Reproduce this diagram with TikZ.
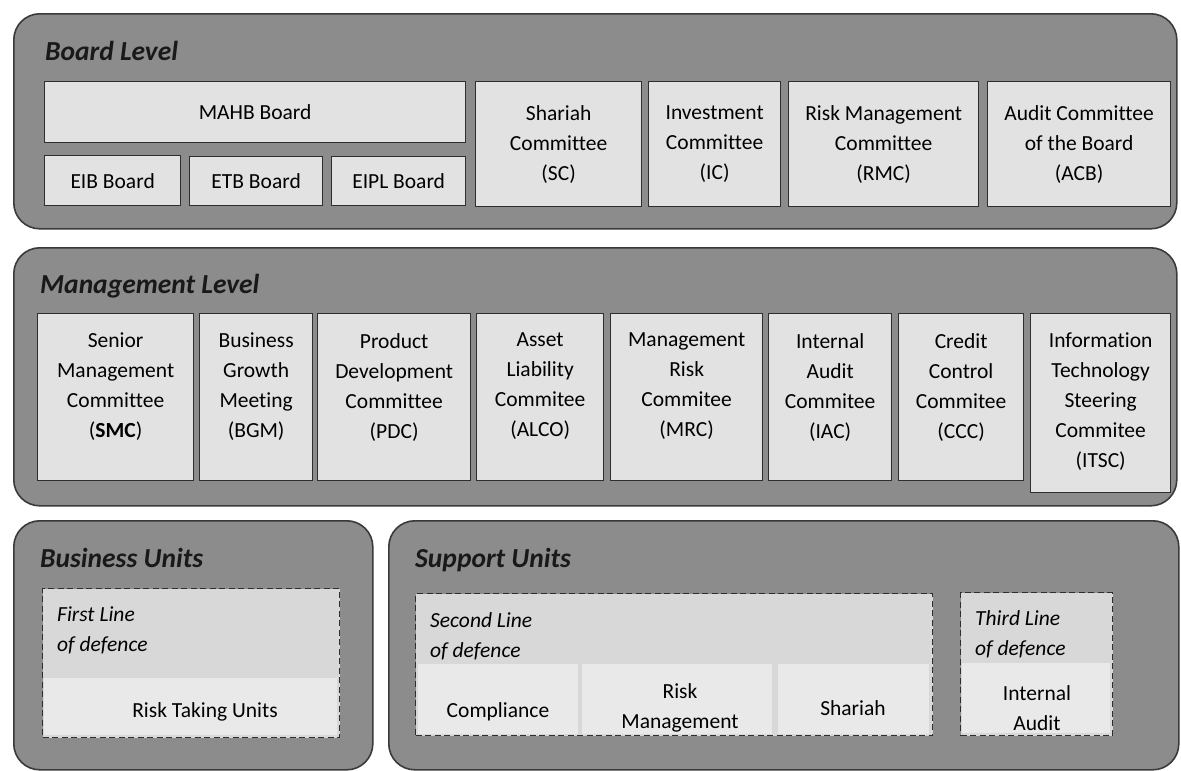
\documentclass[tikz,border=0pt]{standalone}
\usepackage{fontspec}
\setmainfont{Carlito}[Ligatures=CommonOff]
\definecolor{panelgray}{HTML}{8C8C8C}
\definecolor{panelline}{HTML}{3A3A3A}
\definecolor{boxgray}{HTML}{E2E2E2}
\definecolor{boxline}{HTML}{2E2E2E}
\definecolor{dashfill}{HTML}{D8D8D8}
\definecolor{lightfill}{HTML}{E9E9E9}
\newcommand\bxfont{\fontsize{21.5}{30}\selectfont}
\newcommand\ttlfont{\fontsize{27.5}{30}\selectfont\bfseries\itshape}
\newcommand\itlfont{\fontsize{21.5}{30}\selectfont\itshape}
\begin{document}
\begin{tikzpicture}[x=1pt,y=-1pt,
  panel/.style={draw=panelline, fill=panelgray, line width=1.6pt, rounded corners=26pt, anchor=north west, inner sep=0pt},
  cbox/.style={draw=boxline, fill=boxgray, line width=1.3pt, anchor=north west, inner sep=0pt, align=center, font=\bxfont},
  mtext/.style={anchor=north, inner sep=0pt, align=center, font=\bxfont, yshift=-20pt},
  ttl/.style={anchor=base west, font=\ttlfont, inner sep=0pt, text=black!90},
  dbox/.style={draw=boxline, fill=dashfill, line width=1.2pt, dash pattern=on 6pt off 3.5pt, anchor=north west, inner sep=0pt},
  lbox/.style={fill=lightfill, anchor=north west, inner sep=0pt},
  itl/.style={anchor=north west, inner sep=0pt, align=left, font=\itlfont},
  plain/.style={inner sep=0pt, align=center, font=\bxfont}
]
\useasboundingbox (0,0) rectangle (1181,771);
\fill[white] (0,0) rectangle (1181,771);

% Board level
\node[panel, minimum width=1163, minimum height=215] (board) at (13,13) {};
\node[ttl] (boardT) at (45,60) {Board Level};
\node[cbox, minimum width=421, minimum height=61] (mahb) at (44,81) {MAHB Board};
\node[cbox, minimum width=136, minimum height=50] (eib) at (44,155) {EIB Board};
\node[cbox, minimum width=133, minimum height=49] (etb) at (189,156) {ETB Board};
\node[cbox, minimum width=134, minimum height=49] (eipl) at (331,156) {EIPL Board};
\node[cbox, minimum width=166, minimum height=125] (sc) at (475,81) {Shariah\\Committee\\(SC)};
\node[cbox, minimum width=132, minimum height=125] (ic) at (648,81) {Investment\\Committee\\(IC)};
\node[cbox, minimum width=190, minimum height=125] (rmc) at (788,81) {Risk Management\\Committee\\(RMC)};
\node[cbox, minimum width=183, minimum height=125] (acb) at (987,81) {Audit Committee\\of the Board\\(ACB)};

% Management level
\node[panel, minimum width=1163, minimum height=258] (mgmt) at (13,247) {};
\node[ttl] (mgmtT) at (40,293) {Management Level};
\node[cbox, minimum width=156, minimum height=167] (smc) at (37,313) {};
\node[mtext] (smcT) at (smc.north) {Senior\\Management\\Committee\\(\textbf{SMC})};
\node[cbox, minimum width=113, minimum height=167] (bgm) at (199,313) {};
\node[mtext] (bgmT) at (bgm.north) {Business\\Growth\\Meeting\\(BGM)};
\node[cbox, minimum width=153, minimum height=167] (pdc) at (317,313) {};
\node[mtext] (pdcT) at (pdc.north) {Product\\Development\\Committee\\(PDC)};
\node[cbox, minimum width=127, minimum height=167] (alco) at (476,313) {};
\node[mtext] (alcoT) at (alco.north) {Asset\\Liability\\Commitee\\(ALCO)};
\node[cbox, minimum width=152, minimum height=167] (mrc) at (610,313) {};
\node[mtext] (mrcT) at (mrc.north) {Management\\Risk\\Commitee\\(MRC)};
\node[cbox, minimum width=123, minimum height=167] (iac) at (768,313) {};
\node[mtext] (iacT) at (iac.north) {Internal\\Audit\\Commitee\\(IAC)};
\node[cbox, minimum width=125, minimum height=167] (ccc) at (898,313) {};
\node[mtext] (cccT) at (ccc.north) {Credit\\Control\\Commitee\\(CCC)};
\node[cbox, minimum width=140, minimum height=179] (itsc) at (1030,313) {};
\node[mtext] (itscT) at (itsc.north) {Information\\Technology\\Steering\\Commitee\\(ITSC)};

% Business units
\node[panel, minimum width=359, minimum height=249] (bu) at (13,520) {};
\node[ttl] (buT) at (40,567) {Business Units};
\node[dbox, minimum width=297, minimum height=149] (first) at (42,588) {};
\node[lbox, minimum width=293, minimum height=57] (firstL) at (44,678) {};
\node[itl] (firstT) at (57,607) {First Line\\of defence};
\node[plain] (rtu) at (205,712) {Risk Taking Units};

% Support units
\node[panel, minimum width=790, minimum height=249] (su) at (388,520) {};
\node[ttl] (suT) at (415,567) {Support Units};
\node[dbox, minimum width=517, minimum height=142] (second) at (415,593) {};
\node[lbox, minimum width=160, minimum height=70] (compL) at (418,664) {};
\node[lbox, minimum width=190, minimum height=70] (rmL) at (582,664) {};
\node[lbox, minimum width=151, minimum height=70] (shL) at (778,664) {};
\node[itl] (secondT) at (430,612) {Second Line\\of defence};
\node[plain] (comp) at (498,712) {Compliance};
\node[plain] (rm) at (680,708) {Risk\\Management};
\node[plain] (sh) at (853,708) {Shariah};

\node[dbox, minimum width=152, minimum height=143] (third) at (960,592) {};
\node[lbox, minimum width=148, minimum height=70] (thirdL) at (962,663) {};
\node[itl] (thirdT) at (975,610) {Third Line\\of defence};
\node[plain] (ia) at (1037,708) {Internal\\Audit};
\end{tikzpicture}
\end{document}
